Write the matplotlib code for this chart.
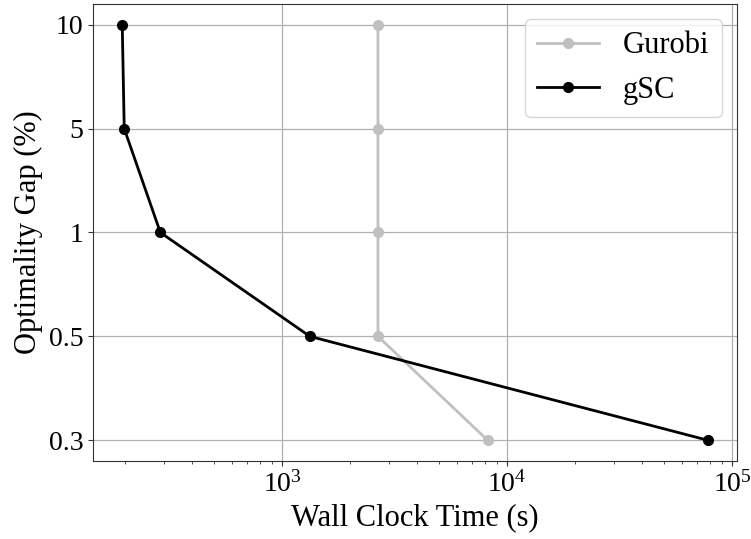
import numpy as np
import matplotlib
matplotlib.use("Agg")
import matplotlib.pyplot as plt

plt.rcParams["font.family"] = ["Liberation Serif", "DejaVu Serif"]
plt.rcParams["mathtext.fontset"] = "custom"
plt.rcParams["mathtext.rm"] = "Liberation Serif"

# Optimality gap levels (categorical y axis)
gap_labels = ["0.3", "0.5", "1", "5", "10"]

# Wall clock time (s) per gap level
gurobi_time = [8200, 2670, 2670, 2670, 2670]
gsc_time = [78000, 1330, 288, 199, 195]

fig = plt.figure(figsize=(7.51, 5.39), dpi=100)
ax = fig.add_axes([0.1238, 0.1447, 0.8576, 0.8479])

ypos = np.arange(len(gap_labels))
ax.plot(gurobi_time, ypos, color="#c0c0c0", marker="o", markersize=7, linewidth=2.0, label="Gurobi")
ax.plot(gsc_time, ypos, color="black", marker="o", markersize=7, linewidth=2.0, label="gSC")

ax.set_xscale("log")
ax.set_yticks(ypos)
ax.set_yticklabels(gap_labels)
ax.grid(True, which="major", color="#b0b0b0", linewidth=0.9)
ax.set_axisbelow(True)

for s in ax.spines.values():
    s.set_color("#333333")
ax.tick_params(axis="both", which="major", labelsize=20, colors="#333333", labelcolor="black")
ax.tick_params(axis="x", which="minor", colors="#333333")

ax.set_xlabel("Wall Clock Time (s)", fontsize=22)
ax.set_ylabel("Optimality Gap (%)", fontsize=22)

ax.legend(loc="upper right", fontsize=22, handlelength=2.0)

plt.savefig("out.png", dpi=100)
plt.close()
